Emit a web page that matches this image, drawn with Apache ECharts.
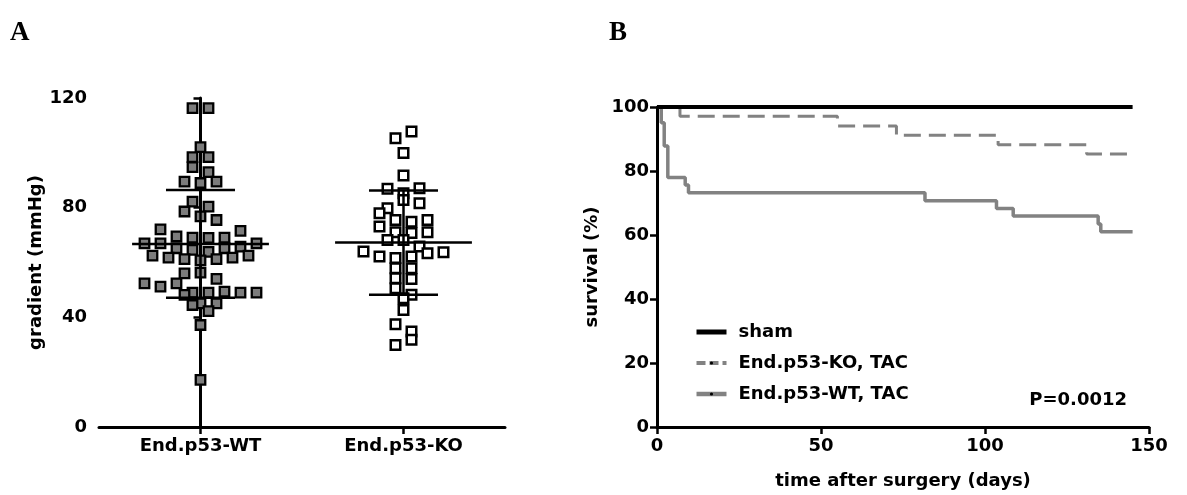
<!DOCTYPE html>
<html>
<head>
<meta charset="utf-8">
<script src="https://cdn.jsdelivr.net/npm/echarts@6/dist/echarts.min.js"></script>
<style>
html,body{margin:0;padding:0;background:#fff;}
#c{width:1187px;height:495px;}
</style>
</head>
<body>
<div id="c"></div>
<script>
// ---------------- DATA ----------------
const categories = ['End.p53-WT', 'End.p53-KO'];
// values read row by row, left to right
const wtValues = [116.3, 116.3, 102.1, 98.4, 98.4, 94.8, 93.0, 89.5, 89.0, 89.5,
  82.2, 80.4, 78.6, 76.8, 75.5,
  72.1, 69.5, 69.1, 69.0, 69.1, 71.5,
  67.0, 67.0, 65.2, 64.6, 63.9, 65.2, 65.8, 67.0,
  62.5, 61.8, 61.2, 60.8, 61.2, 61.8, 62.5,
  56.0, 56.3, 52.4, 51.2, 52.4, 54.0,
  49.0, 49.0, 49.4, 49.0, 48.2, 49.0,
  45.1, 44.5, 45.1, 42.3, 37.2, 17.2];
const koValues = [105.3, 107.8, 99.9, 91.7, 86.9, 85.3, 87.1,
  79.8, 82.8, 81.6, 78.0,
  73.1, 75.5, 74.9, 75.5, 71.0, 70.8, 71.0, 68.2, 68.2,
  65.8, 64.0, 62.2, 61.6, 62.2, 63.4, 63.7,
  57.9, 57.9, 54.3, 54.0, 50.6, 47.0, 48.2,
  42.7, 37.5, 34.8, 29.9, 31.8];
const gradientTicks = {min: 0, max: 120, interval: 40};

const survivalNames = ['sham', 'End.p53-KO, TAC', 'End.p53-WT, TAC'];
const shamCurve = [[0, 100], [145, 100]];
const koCurve = [[0, 100], [7, 97.1], [55, 94.1], [73, 91.2], [104, 88.2], [131, 85.3], [145, 85.3]];
const wtCurve = [[0, 100], [1.3, 95.1], [2.2, 87.8], [3.3, 78.0], [8.6, 75.6], [9.6, 73.2],
  [81.7, 70.7], [103.5, 68.3], [108.6, 65.9], [134.5, 63.4], [135.3, 61.0], [145, 61.0]];
const survivalTicks = {min: 0, max: 100, interval: 20};
const dayTicks = {min: 0, max: 150, interval: 50};
const pValueText = 'P=0.0012';

// ---------------- LAYOUT ----------------
const GA = {left: 99, top: 98, width: 406, height: 329};
const GB = {left: 657, top: 107, width: 492, height: 321};
const FONT = 'DejaVu Sans';
const GRAY = '#828282';

function meanSd(a) {
  const m = a.reduce((s, v) => s + v, 0) / a.length;
  const sd = Math.sqrt(a.reduce((s, v) => s + (v - m) * (v - m), 0) / (a.length - 1));
  return [m, sd];
}

// row-based column scatter layout (like a dot plot): points whose values fall within
// one marker height form a row, spread symmetrically around the category centre
function swarm(values, gi) {
  const bandPx = GA.width / categories.length;
  const rowSpan = 3.4;           // value units (~ marker height)
  const stepPx = 16;             // horizontal spacing of markers
  const order = values.map((v, i) => i).sort((a, b) => values[b] - values[a] || a - b);
  const rows = [];
  let cur = null;
  order.forEach(i => {
    if (!cur || cur.top - values[i] > rowSpan) { cur = {top: values[i], idx: []}; rows.push(cur); }
    cur.idx.push(i);
  });
  const out = [];
  rows.forEach(r => {
    r.idx.sort((a, b) => a - b);
    const n = r.idx.length;
    r.idx.forEach((i, j) => {
      const dx = (j - (n - 1) / 2) * stepPx;
      out.push([gi + dx / bandPx, values[i]]);
    });
  });
  return out;
}

const wtStats = meanSd(wtValues);
const koStats = meanSd(koValues);

const axisLine = {show: true, lineStyle: {color: '#000', width: 3}};
const axisTick = {show: true, length: 7, lineStyle: {color: '#000', width: 2.5}};
const lbl = {color: '#000', fontFamily: FONT, fontWeight: 'bold', fontSize: 18};

const chart = echarts.init(document.getElementById('c'), null, {renderer: 'canvas'});
chart.setOption({
  backgroundColor: '#fff',
  animation: false,
  grid: [
    Object.assign({containLabel: false}, GA),
    Object.assign({containLabel: false}, GB)
  ],
  xAxis: [
    {gridIndex: 0, type: 'category', data: categories, boundaryGap: true,
      axisLine: axisLine, axisTick: Object.assign({alignWithLabel: true}, axisTick),
      axisLabel: Object.assign({margin: 10}, lbl), splitLine: {show: false}},
    {gridIndex: 0, type: 'value', min: -0.5, max: 1.5, show: false},
    {gridIndex: 1, type: 'value', min: dayTicks.min, max: dayTicks.max, interval: dayTicks.interval,
      axisLine: axisLine, axisTick: axisTick, axisLabel: Object.assign({margin: 10}, lbl),
      splitLine: {show: false},
      name: 'time after surgery (days)', nameLocation: 'middle', nameGap: 45,
      nameTextStyle: lbl}
  ],
  yAxis: [
    {gridIndex: 0, type: 'value', min: gradientTicks.min, max: gradientTicks.max, interval: gradientTicks.interval,
      axisLine: axisLine, axisTick: axisTick, axisLabel: Object.assign({margin: 12}, lbl),
      splitLine: {show: false},
      name: 'gradient (mmHg)', nameLocation: 'middle', nameGap: 54, nameTextStyle: lbl},
    {gridIndex: 1, type: 'value', min: survivalTicks.min, max: survivalTicks.max, interval: survivalTicks.interval,
      axisLine: axisLine, axisTick: axisTick, axisLabel: Object.assign({margin: 8}, lbl),
      splitLine: {show: false},
      name: 'survival (%)', nameLocation: 'middle', nameGap: 56, nameTextStyle: lbl}
  ],
  legend: {
    orient: 'vertical', left: 689, top: 318, itemGap: 13, itemWidth: 30, itemHeight: 4,
    textStyle: Object.assign({padding: [0, 0, 0, 7]}, lbl),
    data: [
      {name: survivalNames[0], lineStyle: {color: '#000', width: 5}, itemStyle: {color: '#000'}},
      {name: survivalNames[1], lineStyle: {color: GRAY, width: 4, type: [9, 4]}, itemStyle: {color: '#000'}},
      {name: survivalNames[2], lineStyle: {color: GRAY, width: 4.5}, itemStyle: {color: '#000'}}
    ]
  },
  graphic: [
    {type: 'text', left: 10, top: 20, style: {text: 'A', font: 'bold 27px "Liberation Serif"', fill: '#000'}},
    {type: 'text', left: 609, top: 20, style: {text: 'B', font: 'bold 27px "Liberation Serif"', fill: '#000'}},
    {type: 'text', right: 1187 - 1127, top: 391, style: {text: pValueText, font: 'bold 18px "DejaVu Sans"', fill: '#000'}}
  ],
  series: [
    {type: 'scatter', xAxisIndex: 1, yAxisIndex: 0, symbol: 'rect', symbolSize: 9.5,
      data: swarm(wtValues, 0),
      itemStyle: {color: '#7c7c7c', borderColor: '#000', borderWidth: 2.3, opacity: 1}, z: 2},
    {type: 'scatter', xAxisIndex: 1, yAxisIndex: 0, symbol: 'rect', symbolSize: 9.5,
      data: swarm(koValues, 1),
      itemStyle: {color: '#fff', borderColor: '#000', borderWidth: 2.5, opacity: 1}, z: 2},
    {type: 'custom', xAxisIndex: 0, yAxisIndex: 0, z: 5,
      data: [[0, wtStats[0], wtStats[1]], [1, koStats[0], koStats[1]]],
      renderItem: function (params, api) {
        const c = api.coord([api.value(0), api.value(1)]);
        const up = api.coord([api.value(0), api.value(1) + api.value(2)]);
        const lo = api.coord([api.value(0), api.value(1) - api.value(2)]);
        const band = api.size([1, 0])[0];
        const hm = band * 0.337, hs = band * 0.17;
        const st = {stroke: '#000', lineWidth: 2.5};
        return {type: 'group', children: [
          {type: 'line', shape: {x1: c[0] - hm, y1: c[1], x2: c[0] + hm, y2: c[1]}, style: st},
          {type: 'line', shape: {x1: c[0] - hs, y1: up[1], x2: c[0] + hs, y2: up[1]}, style: st},
          {type: 'line', shape: {x1: c[0] - hs, y1: lo[1], x2: c[0] + hs, y2: lo[1]}, style: st},
          {type: 'line', shape: {x1: c[0], y1: up[1], x2: c[0], y2: lo[1]}, style: st}
        ]};
      }},
    {type: 'line', name: survivalNames[0], xAxisIndex: 2, yAxisIndex: 1, data: shamCurve, step: 'end',
      showSymbol: false, symbol: 'circle', itemStyle: {color: '#000'},
      lineStyle: {color: '#000', width: 4}, z: 3},
    {type: 'line', name: survivalNames[1], xAxisIndex: 2, yAxisIndex: 1, data: koCurve, step: 'end',
      showSymbol: false, symbol: 'circle', itemStyle: {color: '#000'},
      lineStyle: {color: GRAY, width: 3, type: [17, 8]}, z: 2},
    {type: 'line', name: survivalNames[2], xAxisIndex: 2, yAxisIndex: 1, data: wtCurve, step: 'end',
      showSymbol: false, symbol: 'circle', itemStyle: {color: '#000'},
      lineStyle: {color: GRAY, width: 3.5}, z: 2}
  ]
});
</script>
</body>
</html>
